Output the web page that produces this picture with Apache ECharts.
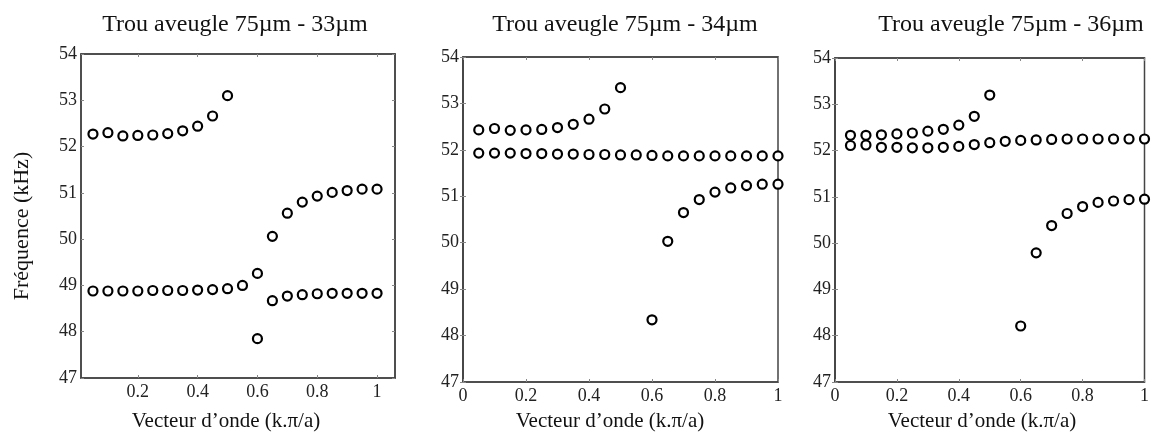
<!DOCTYPE html>
<html>
<head>
<meta charset="utf-8">
<script src="https://cdn.jsdelivr.net/npm/echarts@6/dist/echarts.min.js"></script>
<style>html,body{margin:0;padding:0;background:#fff;}#c{width:1152px;height:434px;}</style>
</head>
<body>
<div id="c"></div>
<script>
// Wave vector values (k.π/a)
const k = [0.05,0.10,0.15,0.20,0.25,0.30,0.35,0.40,0.45,0.50,0.55,0.60,0.65,0.70,0.75,0.80,0.85,0.90,0.95,1.00];
const titles = ["Trou aveugle 75µm - 33µm", "Trou aveugle 75µm - 34µm", "Trou aveugle 75µm - 36µm"];
const xName = "Vecteur d’onde (k.π/a)";
const yName = "Fréquence (kHz)";
const xTicks = [0, 0.2, 0.4, 0.6, 0.8, 1];
const xTicksP1 = [0.2, 0.4, 0.6, 0.8, 1];
const yTicks = [47, 48, 49, 50, 51, 52, 53, 54];

// Panel 1 (33µm)
const p1Upper = [52.27,52.30,52.23,52.24,52.25,52.28,52.34,52.44,52.66,53.10];          // k 0.05..0.50
const p1Lower = [48.88,48.88,48.88,48.88,48.89,48.89,48.89,48.90,48.91,48.93,49.00,49.26,48.67,48.77,48.80,48.82,48.83,48.83,48.83,48.83]; // k 0.05..1.00
const p1Third = [47.85,50.06,50.56,50.80,50.93,51.01,51.05,51.08,51.08];                 // k 0.60..1.00

// Panel 2 (34µm)
const p2Upper = [52.43,52.46,52.42,52.43,52.44,52.48,52.55,52.66,52.88,53.34];
const p2Middle = [51.93,51.93,51.93,51.92,51.92,51.91,51.91,51.90,51.90,51.89,51.89,51.88,51.87,51.87,51.87,51.87,51.87,51.87,51.87,51.87];
const p2Lower = [48.34,50.03,50.65,50.93,51.09,51.18,51.23,51.26,51.26];

// Panel 3 (36µm)
const p3Upper = [52.33,52.33,52.34,52.36,52.38,52.42,52.46,52.55,52.74,53.20];
const p3Middle = [52.11,52.12,52.07,52.07,52.06,52.06,52.07,52.09,52.13,52.17,52.20,52.22,52.23,52.24,52.25,52.25,52.25,52.25,52.25,52.25];
const p3Lower = [48.21,49.79,50.38,50.64,50.79,50.88,50.91,50.94,50.95];

const FONT = "'Liberation Serif', 'DejaVu Serif', serif";
const pair = (vals, start) => vals.map((v, i) => [k[start + i], v]);

const grids = [
  {left: 81, top: 54, width: 314, height: 324},
  {left: 463, top: 57, width: 315, height: 325},
  {left: 835, top: 58, width: 314, height: 324}
];
const xRanges = [[0.01, 1.06], [0, 1], [0, 1]];
const titleX = [230, 620, 1006];
const xNameX = [226, 610, 982];

const option = {
  animation: false,
  backgroundColor: '#fff',
  title: titles.map((t, i) => ({
    text: t, left: titleX[i], top: 8, textAlign: 'center',
    textStyle: {fontFamily: FONT, fontSize: 24, fontWeight: 'normal', color: '#111'}
  })),
  grid: grids.map(g => Object.assign({show: true, borderColor: '#444', borderWidth: 1.5, backgroundColor: '#fff'}, g)),
  graphic: [
    {type: 'text', x: 22, y: 226, rotation: Math.PI / 2,
     style: {text: yName, fontFamily: FONT, fontSize: 22, fill: '#111', textAlign: 'center', textVerticalAlign: 'middle'}}
  ].concat(xNameX.map(x => ({
    type: 'text', x: x, y: 421,
    style: {text: xName, fontFamily: FONT, fontSize: 21, fill: '#111', textAlign: 'center', textVerticalAlign: 'middle'}
  }))),
  xAxis: [],
  yAxis: [],
  series: []
};

for (let i = 0; i < 3; i++) {
  const ticks = i === 0 ? xTicksP1 : xTicks;
  option.xAxis.push({
    type: 'value', gridIndex: i, min: xRanges[i][0], max: xRanges[i][1], position: 'bottom',
    axisLine: {show: true, lineStyle: {color: '#444', width: 1.5}},
    axisTick: {show: true, inside: true, length: 3, lineStyle: {color: '#888'}, customValues: ticks},
    axisLabel: {fontFamily: FONT, fontSize: 18, color: '#222', margin: 5, customValues: ticks},
    splitLine: {show: false}
  });
  option.xAxis.push({
    type: 'value', gridIndex: i, min: xRanges[i][0], max: xRanges[i][1], position: 'top',
    axisLine: {show: true, lineStyle: {color: '#444', width: 1.5}},
    axisTick: {show: true, inside: true, length: 3, lineStyle: {color: '#888'}, customValues: ticks},
    axisLabel: {show: false}, splitLine: {show: false}
  });
  option.yAxis.push({
    type: 'value', gridIndex: i, min: 47, max: 54, interval: 1, position: 'left',
    axisLine: {show: true, lineStyle: {color: '#444', width: 1.5}},
    axisTick: {show: true, inside: true, length: 3, lineStyle: {color: '#888'}},
    axisLabel: {fontFamily: FONT, fontSize: 18, color: '#222', margin: 4, customValues: yTicks},
    splitLine: {show: false}
  });
  option.yAxis.push({
    type: 'value', gridIndex: i, min: 47, max: 54, interval: 1, position: 'right',
    axisLine: {show: true, lineStyle: {color: '#444', width: 1.5}},
    axisTick: {show: true, inside: true, length: 3, lineStyle: {color: '#888'}},
    axisLabel: {show: false}, splitLine: {show: false}
  });
}

const panelSeries = [
  [pair(p1Upper, 0), pair(p1Lower, 0), pair(p1Third, 11)],
  [pair(p2Upper, 0), pair(p2Middle, 0), pair(p2Lower, 11)],
  [pair(p3Upper, 0), pair(p3Middle, 0), pair(p3Lower, 11)]
];
panelSeries.forEach((list, i) => {
  list.forEach(data => {
    option.series.push({
      type: 'scatter', xAxisIndex: 2 * i, yAxisIndex: 2 * i, data: data,
      symbol: 'circle', symbolSize: 9, clip: false,
      itemStyle: {color: '#fff', borderColor: '#000', borderWidth: 2.2, opacity: 1},
      emphasis: {disabled: true}
    });
  });
});

const chart = echarts.init(document.getElementById('c'), null, {renderer: 'canvas'});
chart.setOption(option);
</script>
</body>
</html>
